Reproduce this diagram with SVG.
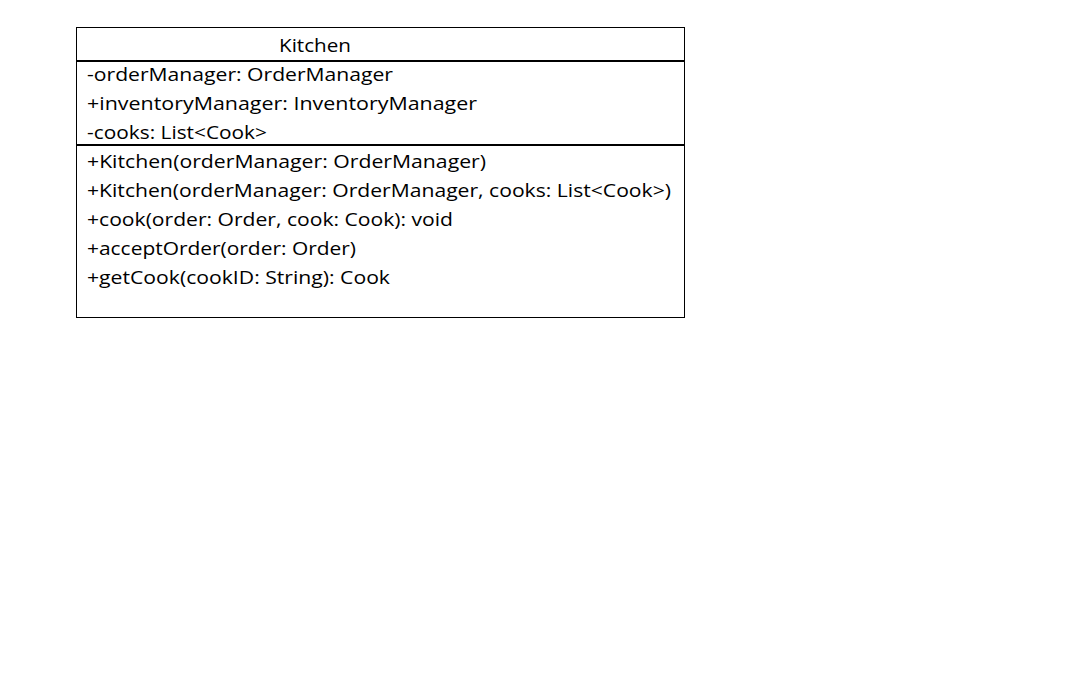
<svg xmlns="http://www.w3.org/2000/svg" width="1077" height="690" viewBox="0 0 1077 690">
<style>
text{font-family:"Open Sans","Liberation Sans",sans-serif;font-size:18.5px;fill:#000}
.b{fill:#fff;stroke:#000;stroke-width:1}
.d{stroke:#000;stroke-width:2}
</style>
<rect width="1077" height="690" fill="#fff"/>
<g id="Kitchen">
<rect class="b" x="76.5" y="27.5" width="608" height="290"/>
<line class="d" x1="76" y1="61" x2="685" y2="61"/>
<line class="d" x1="76" y1="145" x2="685" y2="145"/>
<text x="279" y="52" textLength="72" lengthAdjust="spacingAndGlyphs">Kitchen</text>
<text x="87" y="81" textLength="306" lengthAdjust="spacingAndGlyphs">-orderManager: OrderManager</text>
<text x="87" y="110" textLength="390" lengthAdjust="spacingAndGlyphs">+inventoryManager: InventoryManager</text>
<text x="87" y="139" textLength="180" lengthAdjust="spacingAndGlyphs">-cooks: List&lt;Cook&gt;</text>
<text x="87" y="168" textLength="399" lengthAdjust="spacingAndGlyphs">+Kitchen(orderManager: OrderManager)</text>
<text x="87" y="197" textLength="584" lengthAdjust="spacingAndGlyphs">+Kitchen(orderManager: OrderManager, cooks: List&lt;Cook&gt;)</text>
<text x="87" y="226" textLength="366" lengthAdjust="spacingAndGlyphs">+cook(order: Order, cook: Cook): void</text>
<text x="87" y="255" textLength="269" lengthAdjust="spacingAndGlyphs">+acceptOrder(order: Order)</text>
<text x="87" y="284" textLength="303" lengthAdjust="spacingAndGlyphs">+getCook(cookID: String): Cook</text>
</g>
<g id="connectors"/>
</svg>
